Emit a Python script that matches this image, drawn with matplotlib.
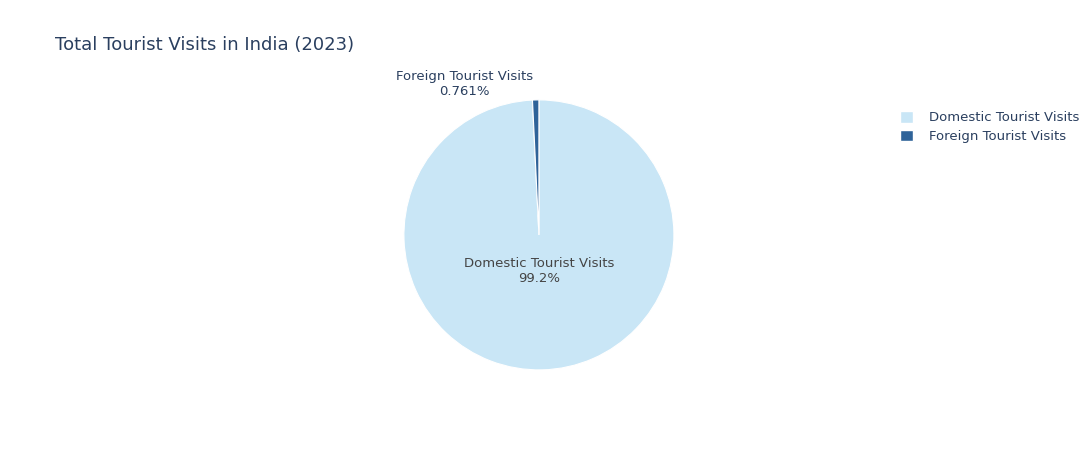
import matplotlib.pyplot as plt
from matplotlib.patches import Patch

# tourist visits 2023 (millions), read as shares off the chart
labels = ["Domestic Tourist Visits", "Foreign Tourist Visits"]
visits = [2509.63, 19.25]
colors = ["#c9e6f6", "#2f6399"]

total = sum(visits)
pcts = [v / total * 100 for v in visits]

fig = plt.figure(figsize=(10.8, 4.5), dpi=100)
ax = fig.add_axes([0.374, 0.178, 0.25, 0.6])
ax.pie(visits, colors=colors, startangle=90, counterclock=False,
       wedgeprops=dict(linewidth=0.8, edgecolor="white"))
ax.set_xlim(-1, 1)
ax.set_ylim(-1, 1)
ax.set_aspect("equal")

txt = "#2a3f5f"
ax.text(0, -0.27, "%s\n%.1f%%" % (labels[0], pcts[0]), ha="center", va="center",
        fontsize=9.5, color="#444444", linespacing=1.2)
ax.text(-0.55, 1.12, "%s\n%.3f%%" % (labels[1], pcts[1]), ha="center", va="center",
        fontsize=9.5, color=txt, linespacing=1.2, clip_on=False)

fig.text(0.051, 0.9, "Total Tourist Visits in India (2023)", fontsize=13, color=txt,
         va="center")

handles = [Patch(facecolor=c, edgecolor="white", label=l) for c, l in zip(colors, labels)]
fig.legend(handles=handles, loc="upper left", bbox_to_anchor=(0.822, 0.78), frameon=False,
           fontsize=9.5, labelcolor=txt, handlelength=1.0, handleheight=1.0,
           handletextpad=1.2, labelspacing=0.4)

fig.savefig("out.png", dpi=100, facecolor="white")
